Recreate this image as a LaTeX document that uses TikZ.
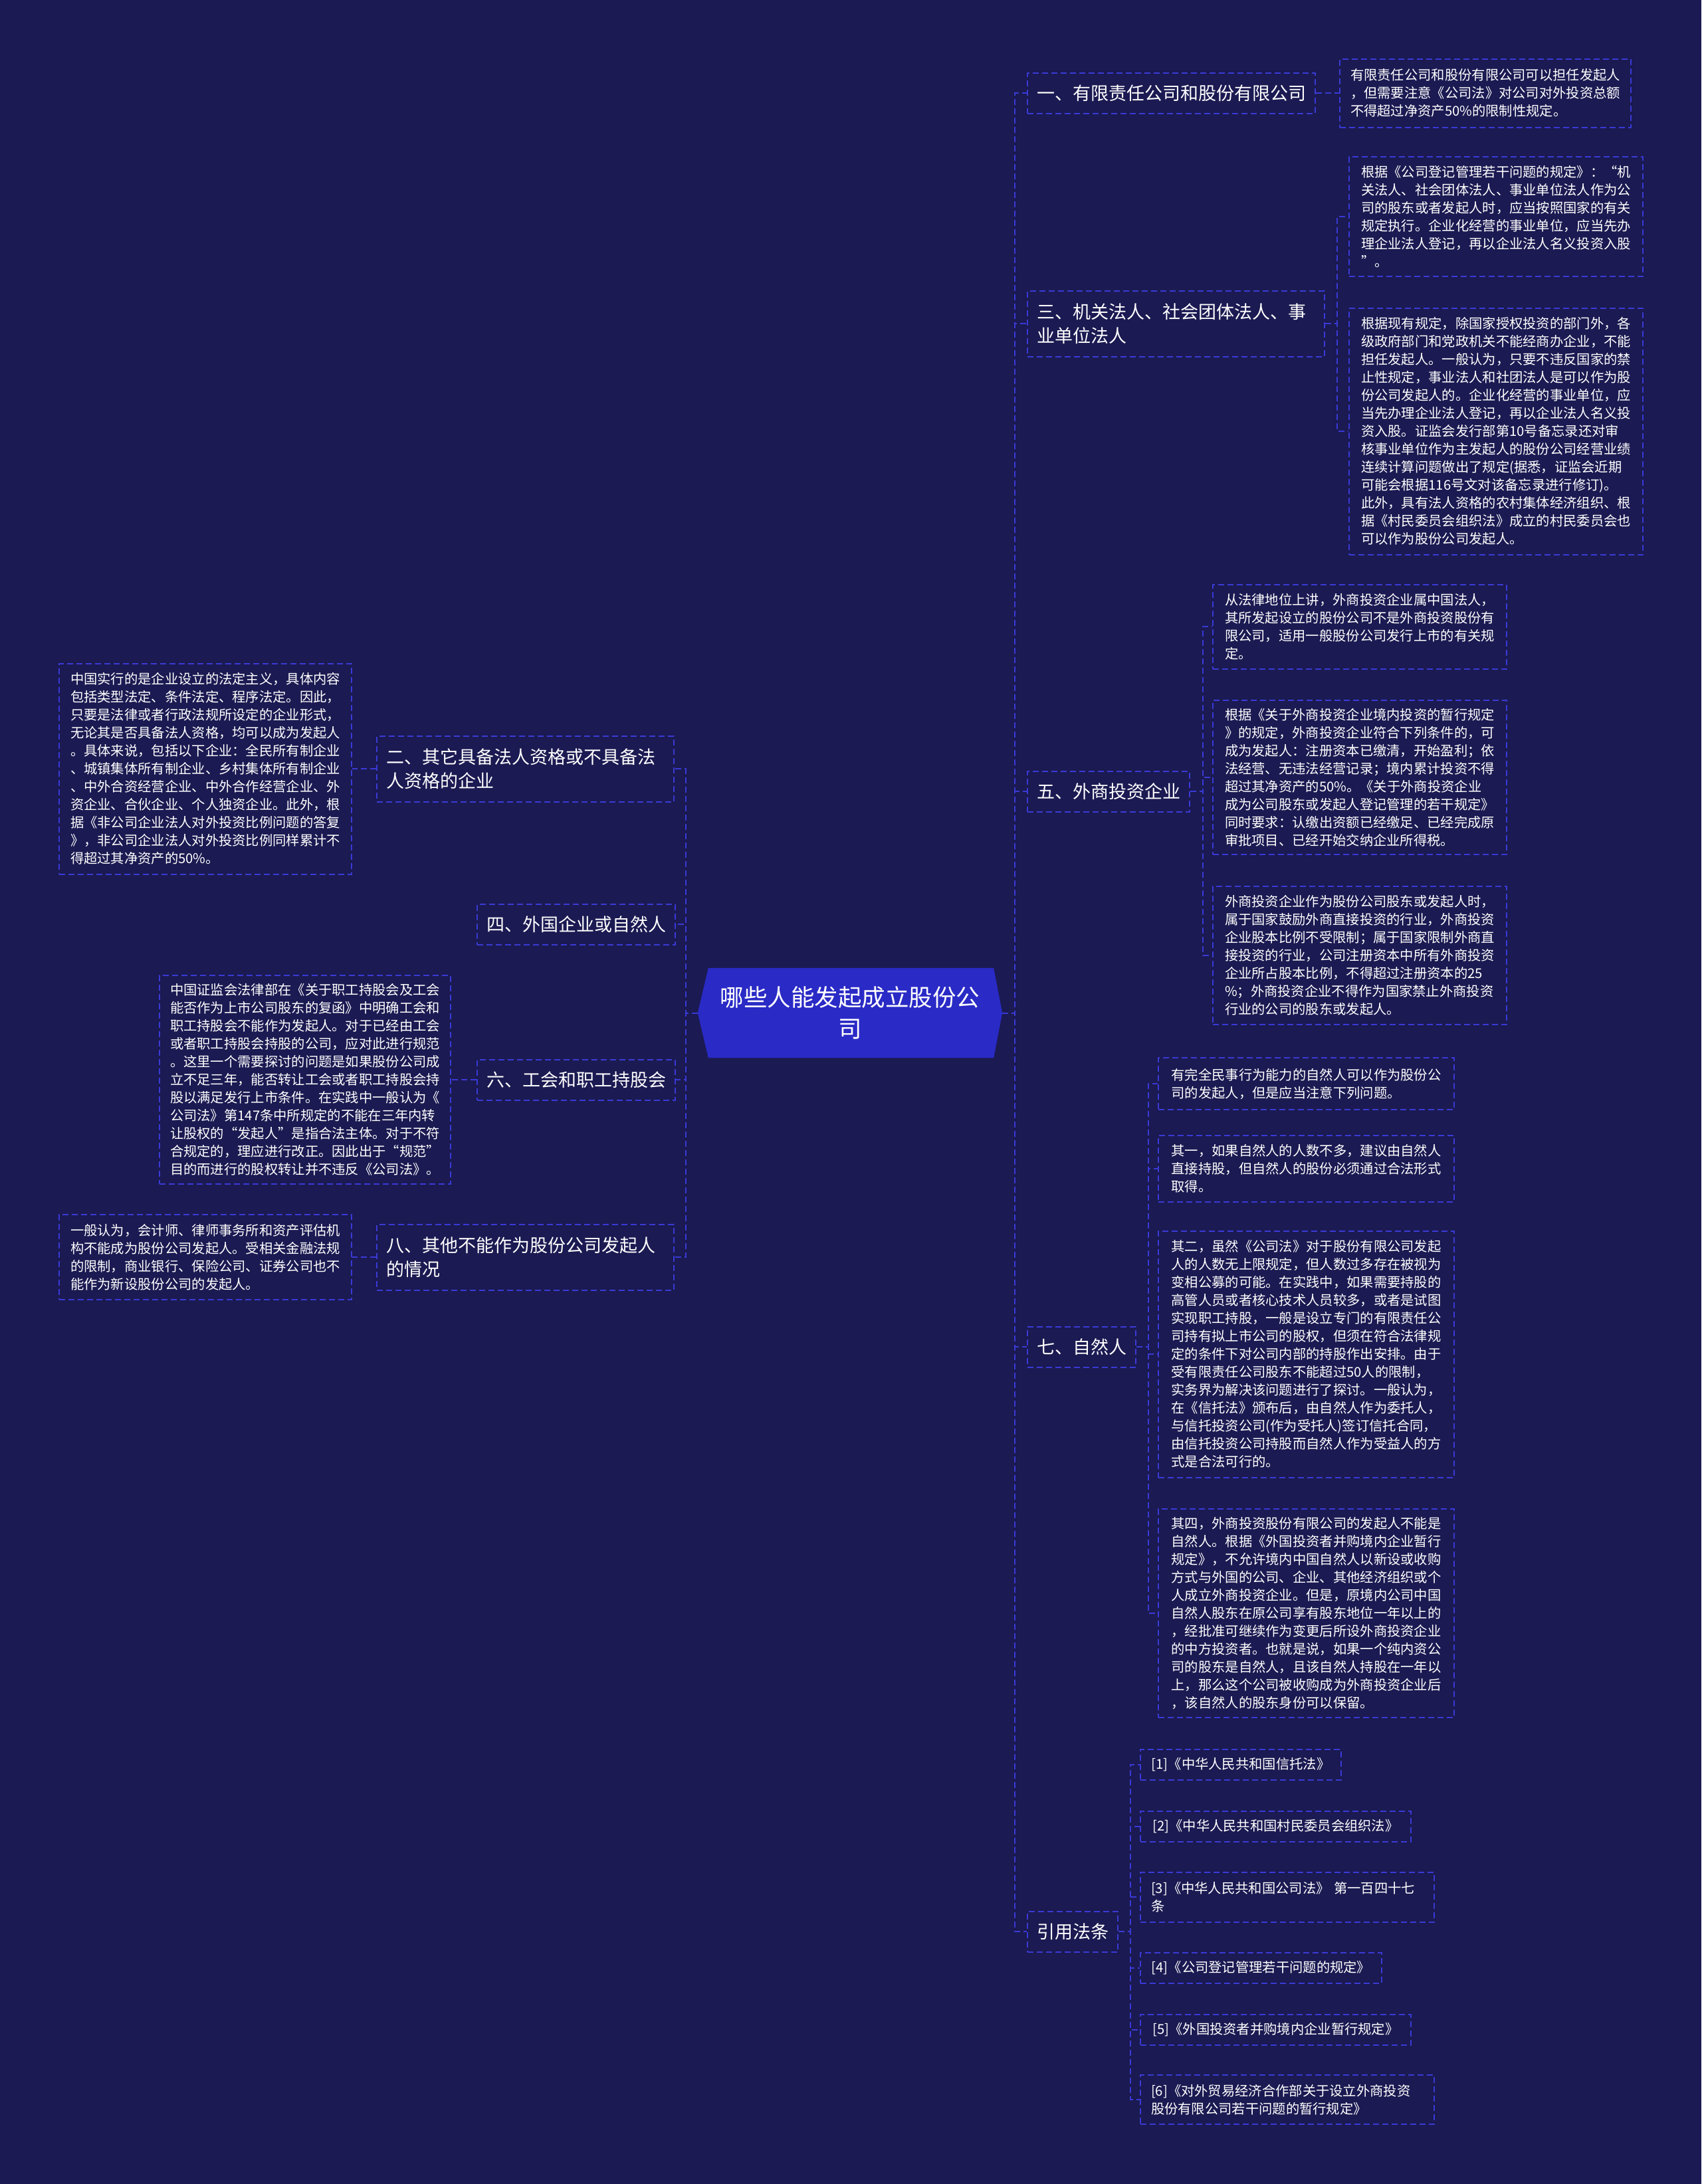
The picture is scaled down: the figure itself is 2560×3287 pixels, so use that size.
\documentclass[tikz,border=0pt]{standalone}
\usepackage{fontspec}
\setmainfont{Noto Sans CJK SC}
\usetikzlibrary{backgrounds}
\definecolor{bgc}{HTML}{1B1A52}
\definecolor{linec}{HTML}{3A3AD6}
\definecolor{rootc}{HTML}{2A2AC6}
\definecolor{txtc}{HTML}{FFFFFF}
\begin{document}
\begin{tikzpicture}[x=1pt,y=-1pt,
  conn/.style={draw=linec, line width=2pt, dash pattern=on 9pt off 5pt},
  boxline/.style={draw=linec, line width=2pt, dash pattern=on 9pt off 5pt, text=txtc, anchor=west, inner ysep=0pt},
  lvl/.style={boxline, font=\fontsize{27}{36}\selectfont, align=left, inner xsep=14pt, minimum height=61pt},
  lvltwo/.style={lvl, text width=419pt, minimum height=99pt},
  leaf/.style={boxline, font=\fontsize{20.3}{27}\selectfont, align=left, inner xsep=16pt},
  wleaf/.style={leaf, minimum width=442pt},
  rootnode/.style={text=txtc, font=\fontsize{35.5}{47}\selectfont, align=center, minimum width=458pt, minimum height=135pt, inner sep=0pt}
]
\useasboundingbox (0,0) rectangle (2560,3287);

% root
\node[rootnode] (root) at (1279,1524.5) {哪些人能发起成立股份公\\司};
\begin{scope}[on background layer]
  \fill[bgc] (0,0) rectangle (2560,3287);
  \fill[rootc] (root.west) -- ([xshift=16pt]root.north west) -- ([xshift=-13pt]root.north east)
    -- (root.east) -- ([xshift=-13pt]root.south east) -- ([xshift=16pt]root.south west) -- cycle;
\end{scope}

% right level 1
\node[lvl, minimum width=432pt] (n1) at (1545,140) {一、有限责任公司和股份有限公司};
\node[lvltwo] (n3) at (1545,487) {三、机关法人、社会团体法人、事\\业单位法人};
\node[lvl, minimum width=241pt] (n5) at (1545,1191) {五、外商投资企业};
\node[lvl, minimum width=160pt] (n7) at (1545,2027) {七、自然人};
\node[lvl, minimum width=134pt] (nref) at (1545,2907) {引用法条};

% left level 1
\node[lvltwo] (n2) at (566,1157) {二、其它具备法人资格或不具备法\\人资格的企业};
\node[lvl, minimum width=296pt] (n4) at (717,1391) {四、外国企业或自然人};
\node[lvl, minimum width=296pt] (n6) at (717,1625) {六、工会和职工持股会};
\node[lvltwo] (n8) at (566,1892) {八、其他不能作为股份公司发起人\\的情况};

% leaves of 一
\node[wleaf, minimum width=438pt, minimum height=103pt] (l1) at (2015,140) {有限责任公司和股份有限公司可以担任发起人\\，但需要注意《公司法》对公司对外投资总额\\不得超过净资产50\%的限制性规定。};

% leaves of 三
\node[wleaf, minimum height=180pt] (l3a) at (2029,326) {根据《公司登记管理若干问题的规定》：“机\\关法人、社会团体法人、事业单位法人作为公\\司的股东或者发起人时，应当按照国家的有关\\规定执行。企业化经营的事业单位，应当先办\\理企业法人登记，再以企业法人名义投资入股\\”。};
\node[wleaf, minimum height=371pt] (l3b) at (2029,649) {根据现有规定，除国家授权投资的部门外，各\\级政府部门和党政机关不能经商办企业，不能\\担任发起人。一般认为，只要不违反国家的禁\\止性规定，事业法人和社团法人是可以作为股\\份公司发起人的。企业化经营的事业单位，应\\当先办理企业法人登记，再以企业法人名义投\\资入股。证监会发行部第10号备忘录还对审\\核事业单位作为主发起人的股份公司经营业绩\\连续计算问题做出了规定(据悉，证监会近期\\可能会根据116号文对该备忘录进行修订)。\\此外，具有法人资格的农村集体经济组织、根\\据《村民委员会组织法》成立的村民委员会也\\可以作为股份公司发起人。};

% leaves of 五
\node[wleaf, minimum height=127pt] (l5a) at (1824,943) {从法律地位上讲，外商投资企业属中国法人，\\其所发起设立的股份公司不是外商投资股份有\\限公司，适用一般股份公司发行上市的有关规\\定。};
\node[wleaf, minimum height=232pt] (l5b) at (1824,1170) {根据《关于外商投资企业境内投资的暂行规定\\》的规定，外商投资企业符合下列条件的，可\\成为发起人：注册资本已缴清，开始盈利；依\\法经营、无违法经营记录；境内累计投资不得\\超过其净资产的50\%。《关于外商投资企业\\成为公司股东或发起人登记管理的若干规定》\\同时要求：认缴出资额已经缴足、已经完成原\\审批项目、已经开始交纳企业所得税。};
\node[wleaf, minimum height=208pt] (l5c) at (1824,1438) {外商投资企业作为股份公司股东或发起人时，\\属于国家鼓励外商直接投资的行业，外商投资\\企业股本比例不受限制；属于国家限制外商直\\接投资的行业，公司注册资本中所有外商投资\\企业所占股本比例，不得超过注册资本的25\\\%；外商投资企业不得作为国家禁止外商投资\\行业的公司的股东或发起人。};

% leaves of 七
\node[wleaf, minimum width=445pt, minimum height=78pt] (l7a) at (1742,1631) {有完全民事行为能力的自然人可以作为股份公\\司的发起人，但是应当注意下列问题。};
\node[wleaf, minimum width=445pt, minimum height=100pt] (l7b) at (1742,1759) {其一，如果自然人的人数不多，建议由自然人\\直接持股，但自然人的股份必须通过合法形式\\取得。};
\node[wleaf, minimum width=445pt, minimum height=371pt] (l7c) at (1742,2038) {其二，虽然《公司法》对于股份有限公司发起\\人的人数无上限规定，但人数过多存在被视为\\变相公募的可能。在实践中，如果需要持股的\\高管人员或者核心技术人员较多，或者是试图\\实现职工持股，一般是设立专门的有限责任公\\司持有拟上市公司的股权，但须在符合法律规\\定的条件下对公司内部的持股作出安排。由于\\受有限责任公司股东不能超过50人的限制，\\实务界为解决该问题进行了探讨。一般认为，\\在《信托法》颁布后，由自然人作为委托人，\\与信托投资公司(作为受托人)签订信托合同，\\由信托投资公司持股而自然人作为受益人的方\\式是合法可行的。};
\node[wleaf, minimum width=445pt, minimum height=314pt] (l7d) at (1742,2428) {其四，外商投资股份有限公司的发起人不能是\\自然人。根据《外国投资者并购境内企业暂行\\规定》，不允许境内中国自然人以新设或收购\\方式与外国的公司、企业、其他经济组织或个\\人成立外商投资企业。但是，原境内公司中国\\自然人股东在原公司享有股东地位一年以上的\\，经批准可继续作为变更后所设外商投资企业\\的中方投资者。也就是说，如果一个纯内资公\\司的股东是自然人，且该自然人持股在一年以\\上，那么这个公司被收购成为外商投资企业后\\，该自然人的股东身份可以保留。};

% leaves of 引用法条
\node[leaf, minimum width=302pt, minimum height=46pt] (r1) at (1715,2656) {[1]《中华人民共和国信托法》};
\node[leaf, minimum width=407pt, minimum height=46pt] (r2) at (1715,2749) {[2]《中华人民共和国村民委员会组织法》};
\node[leaf, text width=410pt, minimum height=75pt] (r3) at (1715,2855) {[3]《中华人民共和国公司法》~第一百四十七\\条};
\node[leaf, minimum width=363pt, minimum height=46pt] (r4) at (1715,2962) {[4]《公司登记管理若干问题的规定》};
\node[leaf, minimum width=407pt, minimum height=46pt] (r5) at (1715,3055) {[5]《外国投资者并购境内企业暂行规定》};
\node[leaf, text width=410pt, minimum height=74pt] (r6) at (1715,3160) {[6]《对外贸易经济合作部关于设立外商投资\\股份有限公司若干问题的暂行规定》};

% left leaves
\node[wleaf, minimum width=440pt, minimum height=317pt] (l2) at (88,1157) {中国实行的是企业设立的法定主义，具体内容\\包括类型法定、条件法定、程序法定。因此，\\只要是法律或者行政法规所设定的企业形式，\\无论其是否具备法人资格，均可以成为发起人\\。具体来说，包括以下企业：全民所有制企业\\、城镇集体所有制企业、乡村集体所有制企业\\、中外合资经营企业、中外合作经营企业、外\\资企业、合伙企业、个人独资企业。此外，根\\据《非公司企业法人对外投资比例问题的答复\\》，非公司企业法人对外投资比例同样累计不\\得超过其净资产的50\%。};
\node[wleaf, minimum width=438pt, minimum height=314pt] (l6) at (239,1625) {中国证监会法律部在《关于职工持股会及工会\\能否作为上市公司股东的复函》中明确工会和\\职工持股会不能作为发起人。对于已经由工会\\或者职工持股会持股的公司，应对此进行规范\\。这里一个需要探讨的问题是如果股份公司成\\立不足三年，能否转让工会或者职工持股会持\\股以满足发行上市条件。在实践中一般认为《\\公司法》第147条中所规定的不能在三年内转\\让股权的“发起人”是指合法主体。对于不符\\合规定的，理应进行改正。因此出于“规范”\\目的而进行的股权转让并不违反《公司法》。};
\node[wleaf, minimum width=440pt, minimum height=128pt] (l8) at (88,1892) {一般认为，会计师、律师事务所和资产评估机\\构不能成为股份公司发起人。受相关金融法规\\的限制，商业银行、保险公司、证券公司也不\\能作为新设股份公司的发起人。};

% connectors root -> level 1
\foreach \c in {n1,n3,n5,n7,nref} \draw[conn] (root.east) -- ++(19,0) |- (\c.west);
\foreach \c in {n2,n4,n6,n8} \draw[conn] (root.west) -- ++(-18,0) |- (\c.east);

% connectors level 1 -> leaves
\draw[conn] (n1.east) -- ++(19,0) |- (l1.west);
\foreach \c in {l3a,l3b} \draw[conn] (n3.east) -- ++(18,0) |- (\c.west);
\foreach \c in {l5a,l5b,l5c} \draw[conn] (n5.east) -- ++(19,0) |- (\c.west);
\foreach \c in {l7a,l7b,l7c,l7d} \draw[conn] (n7.east) -- ++(18,0) |- (\c.west);
\foreach \c in {r1,r2,r3,r4,r5,r6} \draw[conn] (nref.east) -- ++(18,0) |- (\c.west);
\draw[conn] (n2.west) -- ++(-19,0) |- (l2.east);
\draw[conn] (n6.west) -- ++(-20,0) |- (l6.east);
\draw[conn] (n8.west) -- ++(-19,0) |- (l8.east);
\end{tikzpicture}
\end{document}
